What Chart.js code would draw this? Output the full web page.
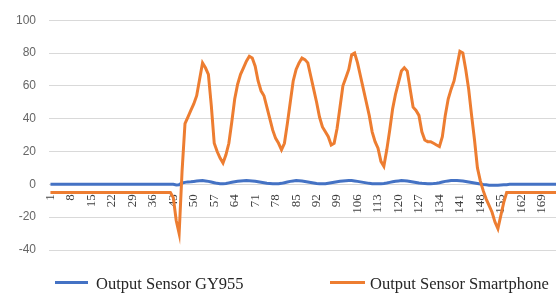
<!DOCTYPE html>
<html>
<head>
<meta charset="utf-8">
<script src="https://cdn.jsdelivr.net/npm/chart.js@4/dist/chart.umd.min.js"></script>
<style>
  html, body { margin: 0; padding: 0; background: #fff; overflow: hidden; }
  #wrap { position: relative; width: 556px; height: 295px; overflow: hidden; }
  #c { position: absolute; left: 0; top: 0; }
  .lg-line { position: absolute; height: 3px; }
  .lg-text { position: absolute; font-family: "Liberation Serif", serif; font-size: 16.5px; color: #262626; line-height: 18px; white-space: nowrap; }
</style>
</head>
<body>
<div id="wrap">
  <canvas id="c" width="582" height="295"></canvas>
  <div class="lg-line" style="left:55px;top:281px;width:33px;background:#4472C4"></div>
  <div class="lg-text" id="lg1" style="left:96px;top:275px"></div>
  <div class="lg-line" style="left:330px;top:281px;width:35px;background:#ED7D31"></div>
  <div class="lg-text" id="lg2" style="left:370px;top:275px"></div>
</div>
<script>
// ---- data ----
const categories = Array.from({length: 174}, (_, i) => String(i + 1));
const shownTickLabels = ['1','8','15','22','29','36','43','50','57','64','71','78','85','92','99','106','113','120','127','134','141','148','155','162','169'];
const seriesNames = ['Output Sensor GY955', 'Output Sensor Smartphone'];

const gy955 = [
  0,0,0,0,0,0,0,0,0,0,
  0,0,0,0,0,0,0,0,0,0,
  0,0,0,0,0,0,0,0,0,0,
  0,0,0,0,0,0,0,0,0,0,
  0,0,0,-0.4,-0.2,0.8,1.2,1.5,1.6,1.8,
  2.0,2.2,2.3,2.1,1.8,1.4,1.0,0.6,0.4,0.3,
  0.5,0.9,1.3,1.6,1.9,2.1,2.2,2.3,2.2,2.1,
  1.9,1.6,1.3,1.0,0.7,0.5,0.3,0.3,0.4,0.6,
  1.0,1.4,1.8,2.1,2.3,2.2,2.0,1.7,1.4,1.1,
  0.8,0.5,0.4,0.3,0.4,0.7,1.0,1.3,1.6,1.9,
  2.1,2.2,2.3,2.3,2.1,1.8,1.5,1.2,0.9,0.6,
  0.4,0.3,0.3,0.4,0.5,0.8,1.2,1.6,1.9,2.1,
  2.3,2.2,2.0,1.7,1.4,1.1,0.8,0.6,0.5,0.4,
  0.4,0.5,0.7,1.0,1.4,1.8,2.1,2.3,2.4,2.3,
  2.2,2.0,1.7,1.4,1.1,0.8,0.5,0.2,-0.1,-0.3,
  -0.5,-0.6,-0.6,-0.5,-0.4,-0.3,-0.2,0,0,0,
  0,0,0,0,0,0,0,0,0,0,
  0,0,0,0
];

const smartphone = [
  -5,-5,-5,-5,-5,-5,-5,-5,-5,-5,
  -5,-5,-5,-5,-5,-5,-5,-5,-5,-5,
  -5,-5,-5,-5,-5,-5,-5,-5,-5,-5,
  -5,-5,-5,-5,-5,-5,-5,-5,-5,-5,
  -5,-5,-8,-22,-30,8,37,41,45,49,
  54,64,74,71,67,48,25,20,16,13,
  18,25,38,52,61,67,71,75,78,77,
  72,63,57,54,47,40,33,28,25,21,
  25,37,50,63,70,74,77,76,74,66,
  58,50,41,35,32,29,24,25,34,47,
  60,65,70,79,80,74,66,58,50,42,
  32,26,22,14,11,21,33,46,55,62,
  69,71,69,58,47,45,42,32,27,26,
  26,25,24,23,29,42,52,58,63,72,
  81,80,70,58,42,27,10,2,-4,-9,
  -13,-17,-23,-27,-19,-11,-5,-5,-5,-5,
  -5,-5,-5,-5,-5,-5,-5,-5,-5,-5,
  -5,-5,-5,-5
];

const yMin = -40, yMax = 100, yStep = 20;
const colors = ['#4472C4', '#ED7D31'];

document.getElementById('lg1').textContent = seriesNames[0];
document.getElementById('lg2').textContent = seriesNames[1];

new Chart(document.getElementById('c'), {
  type: 'line',
  data: {
    labels: categories,
    datasets: [
      { label: seriesNames[0], data: gy955, borderColor: colors[0], backgroundColor: colors[0],
        borderWidth: 3, pointRadius: 0, tension: 0, order: 1 },
      { label: seriesNames[1], data: smartphone, borderColor: colors[1], backgroundColor: colors[1],
        borderWidth: 3, pointRadius: 0, tension: 0, order: 0 }
    ]
  },
  options: {
    responsive: false,
    animation: false,
    layout: { padding: { top: 16, bottom: 45, left: 0, right: 0 } },
    plugins: { legend: { display: false }, tooltip: { enabled: false } },
    scales: {
      x: {
        position: { y: 0 },
        offset: true,
        grid: { display: false, drawTicks: false },
        border: { display: false },
        ticks: {
          autoSkip: false, minRotation: 90, maxRotation: 90, padding: 10,
          color: '#404040',
          font: { family: '"Liberation Serif", serif', size: 13 },
          callback: function(v, i) { const l = categories[i]; return shownTickLabels.includes(l) ? l : ''; }
        }
      },
      y: {
        min: yMin, max: yMax,
        afterFit: (s) => { s.width = 49; },
        grid: { color: '#d9d9d9', lineWidth: 1, drawTicks: false },
        border: { display: false },
        ticks: {
          stepSize: yStep, padding: 13, color: '#666666',
          font: { family: '"Liberation Sans", sans-serif', size: 12 }
        }
      }
    }
  }
});
</script>
</body>
</html>
